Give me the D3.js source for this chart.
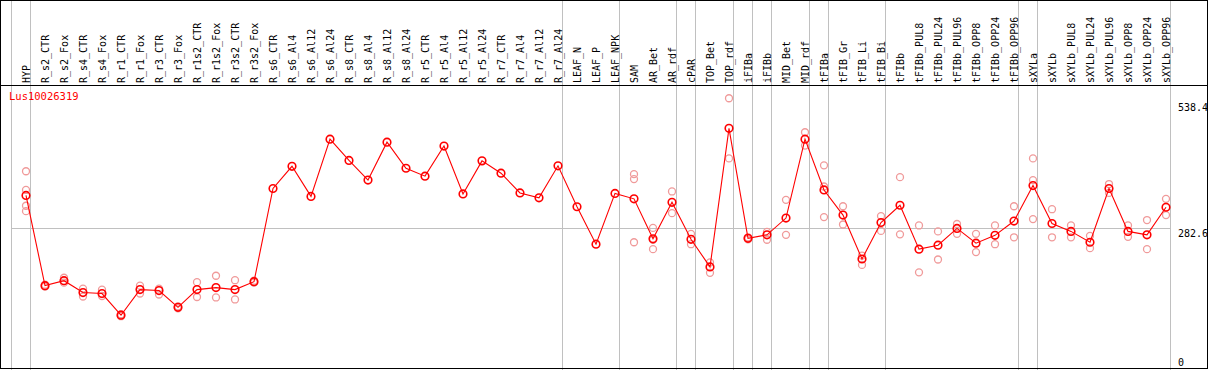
<!DOCTYPE html>
<html><head><meta charset="utf-8">
<script src="https://cdn.jsdelivr.net/npm/d3@7"></script>
<style>body{margin:0;background:#fff}svg{display:block}</style>
</head><body><svg id="c" width="1209" height="370"></svg>
<script>
const title = "Lus10026319";
const categories = ["HYP","R_s2_CTR","R_s2_Fox","R_s4_CTR","R_s4_Fox","R_r1_CTR","R_r1_Fox","R_r3_CTR","R_r3_Fox","R_r1s2_CTR","R_r1s2_Fox","R_r3s2_CTR","R_r3s2_Fox","R_s6_CTR","R_s6_Al4","R_s6_Al12","R_s6_Al24","R_s8_CTR","R_s8_Al4","R_s8_Al12","R_s8_Al24","R_r5_CTR","R_r5_Al4","R_r5_Al12","R_r5_Al24","R_r7_CTR","R_r7_Al4","R_r7_Al12","R_r7_Al24","LEAF_N","LEAF_P","LEAF_NPK","SAM","AR_Bet","AR_rdf","cPAR","TOP_Bet","TOP_rdf","iFIBa","iFIBb","MID_Bet","MID_rdf","tFIBa","tFIB_Gr","tFIB_Li","tFIB_Bi","tFIBb","tFIBb_PUL8","tFIBb_PUL24","tFIBb_PUL96","tFIBb_OPP8","tFIBb_OPP24","tFIBb_OPP96","sXYLa","sXYLb","sXYLb_PUL8","sXYLb_PUL24","sXYLb_PUL96","sXYLb_OPP8","sXYLb_OPP24","sXYLb_OPP96"];
const means = [348,165,175,151,149,105,157,155,121,157,161,157,173,362,407,346,462,419,379,456,403,387,448,351,418,393,353,343,408,325,249,352,341,260,334,259,203,484,261,268,302,462,359,308,219,293,328,239,247,281,251,267,296,368,291,275,253,362,275,268,324];
const replicates = [
 [397,359,327,316],[163,167],[181,171],[159,143],[157,144],[103,107],[165,149],[159,147],[119,123],[172,142],[185,141],[176,137],[171,175],
 [],[],[],[],[],[],[],[],[],[],[],[],[],[],[],[],[],[],[],
 [391,381,253],[282,239,258],[356,312],[270,249],[212,191],[545,423],[259,263],[274,258],[339,268],[476,449],[409,366,304],[326,289],[226,207],[306,276],
 [385,269],[287,192],[275,218],[290,270],[270,233],[287,249],[326,263],
 [423,379,300],[320,263],[287,263],[266,241],[371,353],[287,264],[298,239],[341,308]
];
const groupStarts = [0,1,29,32,35,36,38,39,40,42,43,46,53,54,61];
const yTicks = [538.4, 282.6, 0];

const svg = d3.select("#c");
const W = 1209, H = 370;
const x0 = 11, colW = 19, n = categories.length;
const headerY = 85;
const xBand = d3.scaleBand().domain(d3.range(n)).range([x0, x0 + colW*n]).paddingInner(0).paddingOuter(0);
const cx = i => xBand(i) + 15;
const y = d3.scaleLinear().domain([0, 538.4]).range([367, 101.5]);
const font = "'DejaVu Sans Mono', monospace";

// separators
svg.selectAll("line.sep").data(groupStarts).join("line")
  .attr("x1", d => (d < n ? xBand(d) : x0 + colW*n) + 0.5)
  .attr("x2", d => (d < n ? xBand(d) : x0 + colW*n) + 0.5)
  .attr("y1", 0).attr("y2", H).attr("stroke", "#c0c0c0").attr("stroke-width", 1);

// horizontal reference line
svg.append("line").attr("x1", x0).attr("x2", x0 + colW*n)
  .attr("y1", Math.round(y(282.6)) + 0.5).attr("y2", Math.round(y(282.6)) + 0.5)
  .attr("stroke", "#c0c0c0");

// frame
svg.append("rect").attr("x", 0.5).attr("y", 0.5).attr("width", 1207).attr("height", 368)
  .attr("fill", "none").attr("stroke", "#000");
svg.append("line").attr("x1", 0).attr("x2", 1208).attr("y1", headerY + 0.5).attr("y2", headerY + 0.5).attr("stroke", "#000");

// header labels
svg.selectAll("text.cat").data(categories).join("text")
  .attr("transform", (d, i) => `translate(${cx(i) + 3.5},83) rotate(-90)`)
  .attr("font-family", font).attr("font-size", 10).attr("fill", "#000")
  .text(d => d);

// title
svg.append("text").attr("x", 9).attr("y", 100).attr("font-family", font)
  .attr("font-size", 10.5).attr("fill", "red").text(title);

// y labels
svg.selectAll("text.yt").data(yTicks).join("text")
  .attr("x", 1178).attr("y", d => Math.min(y(d) + 9, 366))
  .attr("font-family", font).attr("font-size", 10).attr("fill", "#000")
  .text(d => d);

// replicates
const repPts = [];
replicates.forEach((r, i) => r.forEach(v => repPts.push([i, v])));
svg.selectAll("circle.rep").data(repPts).join("circle")
  .attr("cx", d => cx(d[0])).attr("cy", d => y(d[1])).attr("r", 3.5)
  .attr("fill", "none").attr("stroke", "#f09a9a").attr("stroke-width", 1.3);

// line
svg.append("path").datum(means)
  .attr("d", d3.line().x((d, i) => cx(i)).y(d => y(d)))
  .attr("fill", "none").attr("stroke", "red").attr("stroke-width", 1.1);

svg.selectAll("circle.mean").data(means).join("circle")
  .attr("cx", (d, i) => cx(i)).attr("cy", d => y(d)).attr("r", 3.8)
  .attr("fill", "none").attr("stroke", "red").attr("stroke-width", 1.6);
</script></body></html>
